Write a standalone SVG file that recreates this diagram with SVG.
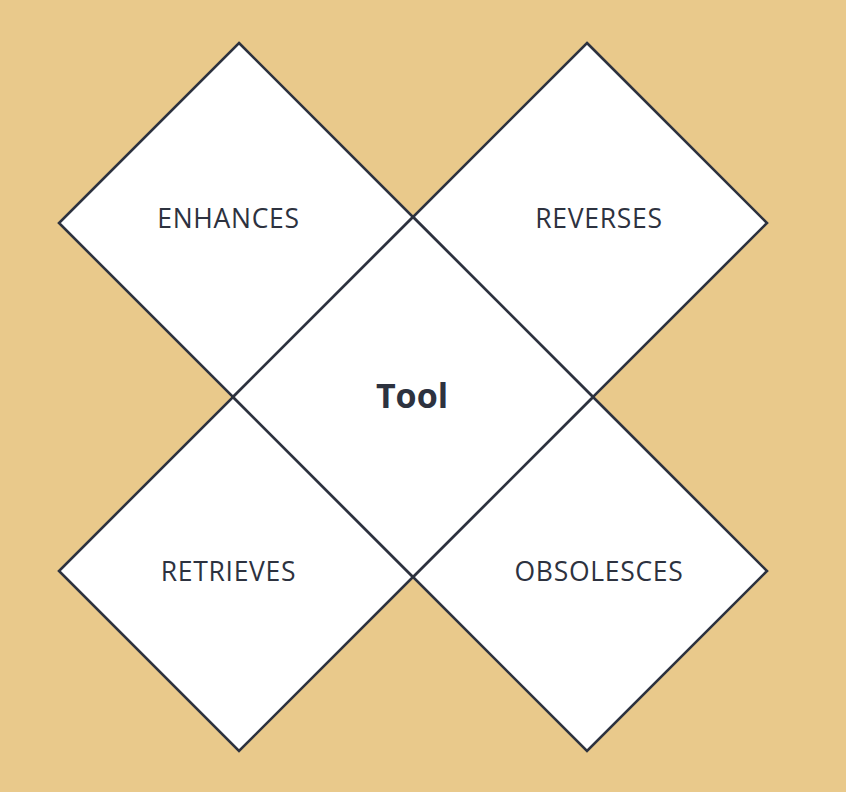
<svg xmlns="http://www.w3.org/2000/svg" width="846" height="792" viewBox="0 0 846 792">
<style>
.d{fill:#ffffff;stroke:#2d323f;stroke-width:2.6;stroke-linejoin:miter}
.t{font-family:"Open Sans","Noto Sans",sans-serif;font-size:26.5px;letter-spacing:0.7px;fill:#2d323f;text-anchor:middle}
.c{font-family:"Open Sans","Noto Sans",sans-serif;font-size:34px;font-weight:bold;fill:#2d323f;text-anchor:middle}
</style>
<rect width="846" height="792" fill="#e9c98b"/>
<g id="enhances"><polygon class="d" points="239,43 413,217 233,397 59,223"/><text class="t" x="228.5" y="227.5">ENHANCES</text></g>
<g id="reverses"><polygon class="d" points="587,43 767,223 593,397 413,217"/><text class="t" x="599" y="227.5">REVERSES</text></g>
<g id="retrieves"><polygon class="d" points="233,397 413,577 239,751 59,571"/><text class="t" x="228.5" y="581">RETRIEVES</text></g>
<g id="obsolesces"><polygon class="d" points="593,397 767,571 587,751 413,577"/><text class="t" x="599" y="581">OBSOLESCES</text></g>
<g id="tool"><polygon class="d" points="413,217 593,397 413,577 233,397"/><text class="c" x="412" y="408">Tool</text></g>
<g id="connectors"></g>
</svg>
